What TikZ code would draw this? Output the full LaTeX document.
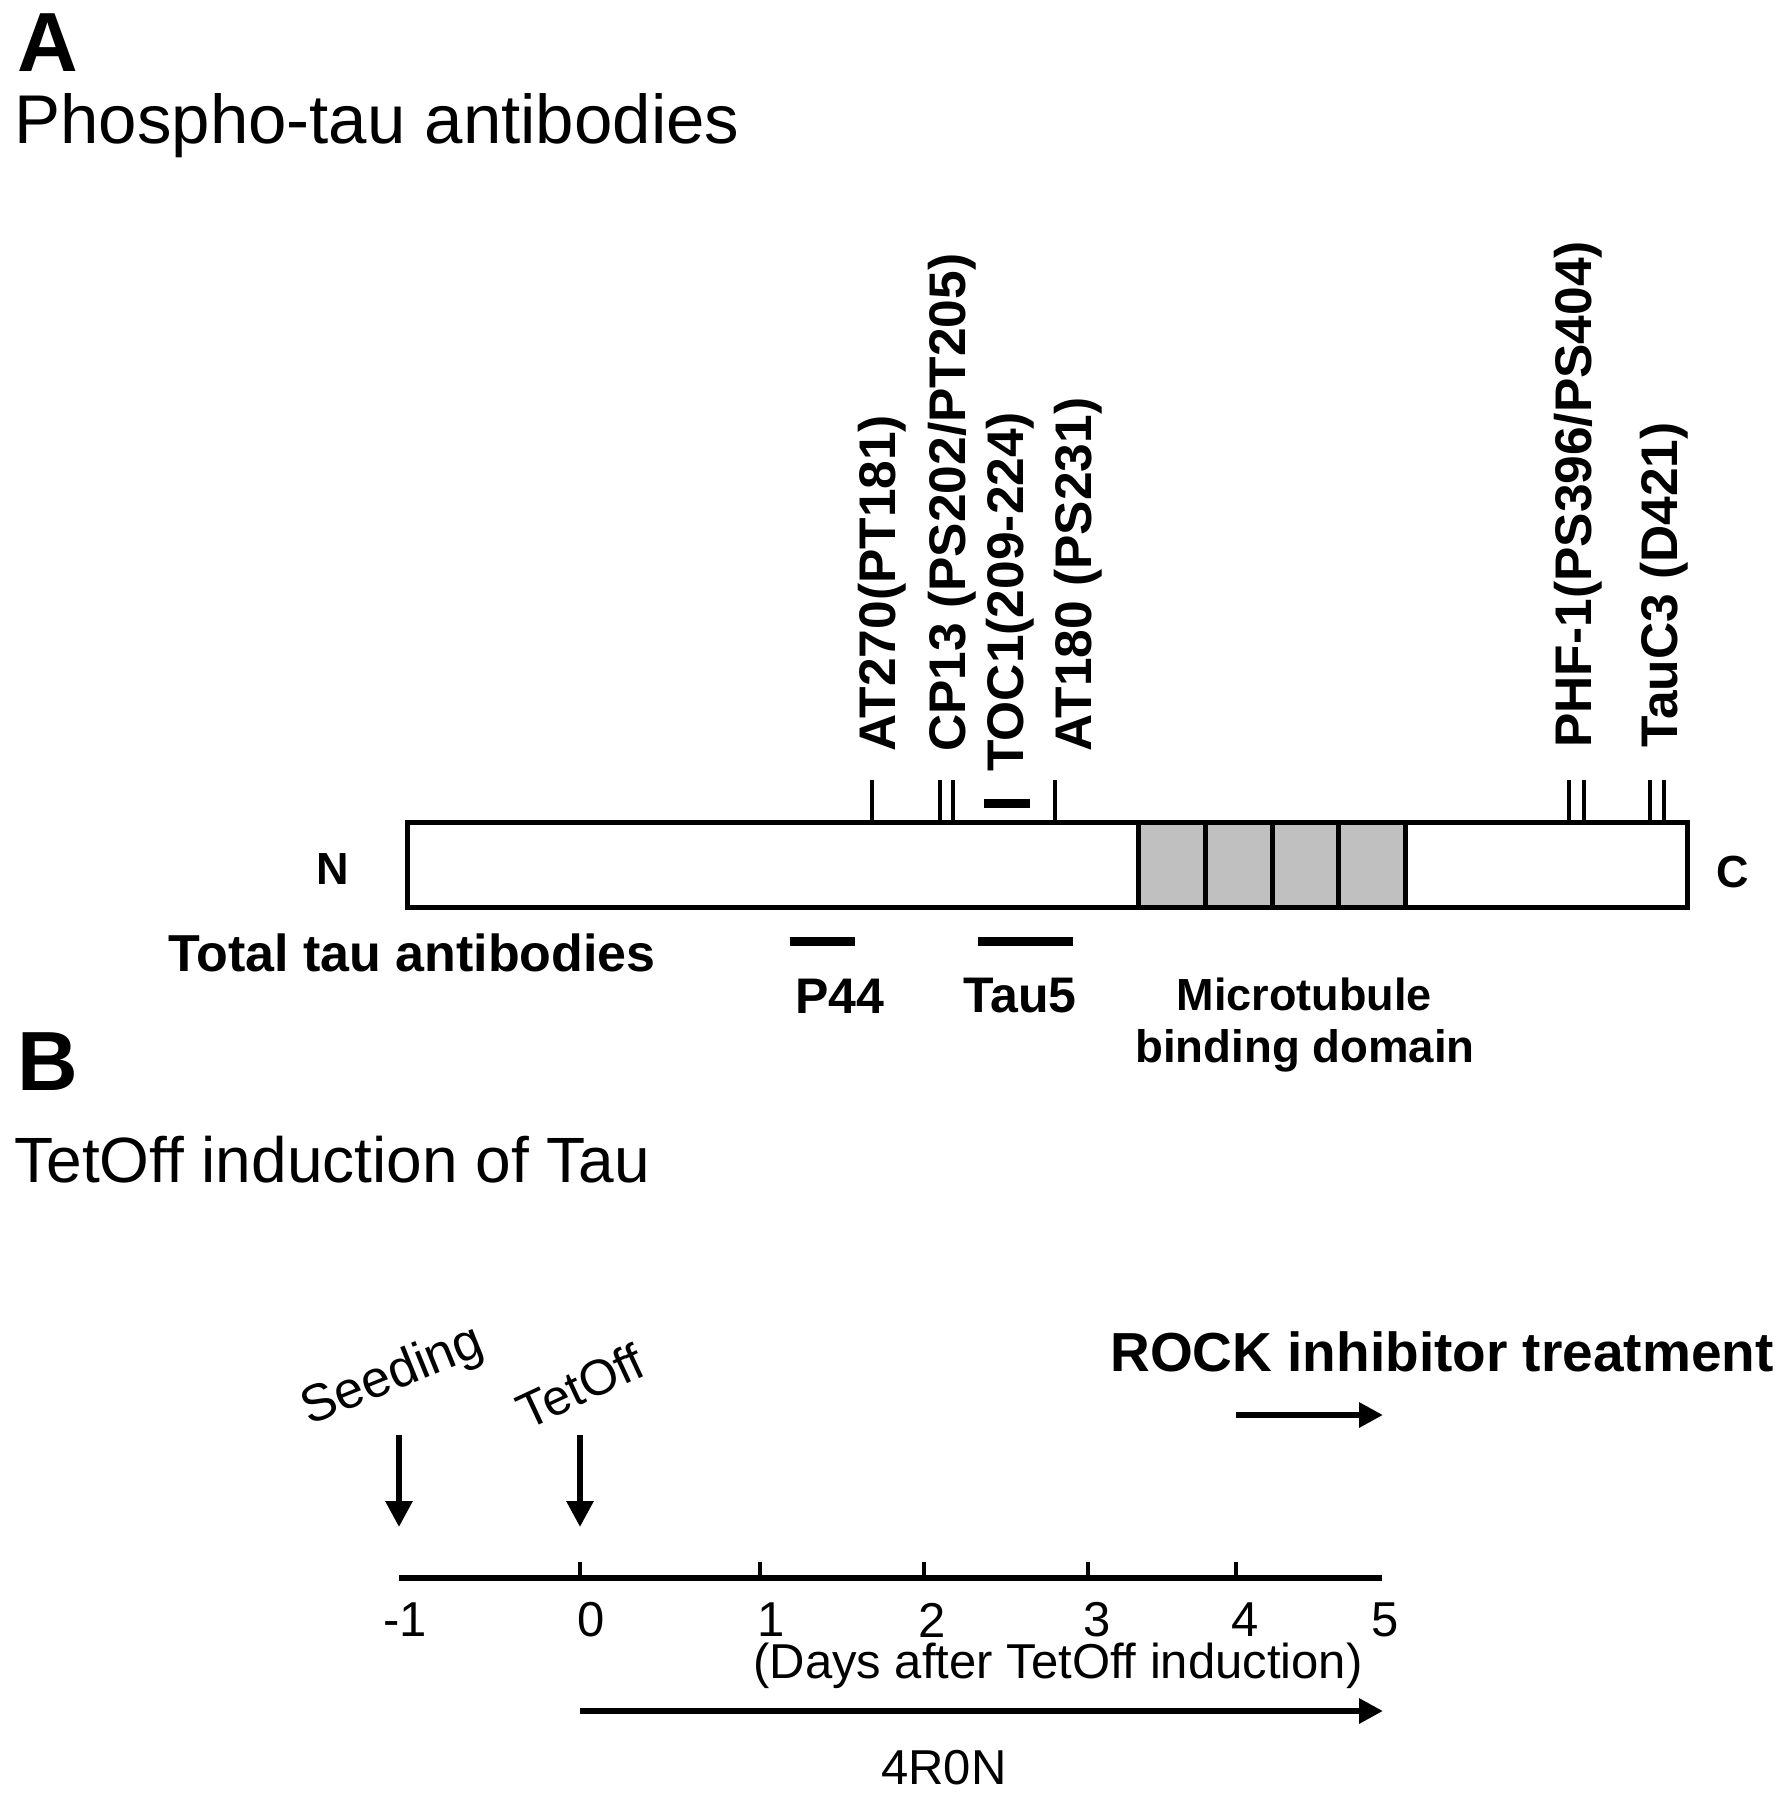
\documentclass[tikz,border=0pt]{standalone}
\usepackage{fontspec}
\setmainfont{Liberation Sans}
\usetikzlibrary{arrows.meta}
\newcommand\fsz[1]{\fontsize{#1}{#1}\selectfont}
\definecolor{domgrey}{RGB}{192,192,192}
\begin{document}
\begin{tikzpicture}[x=0.5pt,y=-0.5pt,
  txt/.style={inner sep=0pt},
  panel/.style={inner sep=0pt, anchor=base west, font=\bfseries\fsz{42pt}},
  title/.style={inner sep=0pt, anchor=base west},
  vlab/.style={inner sep=0pt, rotate=90, anchor=west, font=\bfseries\fsz{25.75pt}},
  blab/.style={inner sep=0pt, font=\bfseries\fsz{25pt}},
  nlab/.style={inner sep=0pt, font=\fsz{24.5pt}},
  boxline/.style={line width=2.5pt},
  tickline/.style={line width=2.4pt},
  bar/.style={line width=4.5pt},
  axisline/.style={line width=3pt},
  arr/.style={line width=3pt, -{Triangle[length=13pt,width=13pt]}},
  harr/.style={line width=3pt, -{Triangle[length=12pt,width=12pt]}}
]
\useasboundingbox (0,0) rectangle (1780,1800);

% ---------- Panel A ----------
\node[panel] (A) at (17,71) {A};
\node[title, font=\fsz{34.5pt}] (tA) at (14,143) {Phospho-tau antibodies};

% protein bar
\draw[boxline] (407,822) rectangle (1687,907);
\foreach \xa/\xb in {1138/1205,1205/1272,1272/1338,1338/1405}
  \draw[boxline, fill=domgrey] (\xa,822) rectangle (\xb,907);
\node[txt, font=\bfseries\fsz{22.5pt}] (N) at (333,869) {N};
\node[txt, font=\bfseries\fsz{22.5pt}] (C) at (1733,872) {C};

% epitope ticks above
\foreach \xx in {872,940,953,1055,1569,1584,1650,1664}
  \draw[tickline] (\xx,780) -- (\xx,822);
\draw[bar] (984,803) -- (1030,803);

% vertical labels
\node[vlab] (at270) at (882,752) {AT270(PT181)};
\node[vlab] (cp13) at (952,752) {CP13 (PS202/PT205)};
\node[vlab] (toc1) at (1010,772) {TOC1(209-224)};
\node[vlab] (at180) at (1078,752) {AT180 (PS231)};
\node[vlab] (phf1) at (1578,748) {PHF-1(PS396/PS404)};
\node[vlab] (tauc3) at (1664,748) {TauC3 (D421)};

% total tau antibodies
\node[txt, font=\bfseries\fsz{26pt}] (total) at (412,953) {Total tau antibodies};
\draw[bar] (790,941) -- (855,941);
\draw[bar] (978,941) -- (1073,941);
\node[blab] (p44) at (840,996) {P44};
\node[blab] (tau5) at (1020,996) {Tau5};
\node[txt, font=\bfseries\fsz{22.5pt}] (mtb1) at (1304,994) {Microtubule};
\node[txt, font=\bfseries\fsz{22.8pt}] (mtb2) at (1305,1051) {binding domain};

% ---------- Panel B ----------
\node[panel] (B) at (17,1090) {B};
\node[title, font=\fsz{32pt}] (tB) at (14,1182) {TetOff induction of Tau};

% rotated labels
\node[txt, rotate=22, font=\fsz{26pt}] (seed) at (393,1377) {Seeding};
\node[txt, rotate=25, font=\fsz{25pt}] (tetoff) at (580,1386) {TetOff};

% down arrows
\coordinate (sa1) at (399,1435);
\coordinate (sa2) at (399,1527);
\coordinate (ta1) at (580,1435);
\coordinate (ta2) at (580,1527);
\draw[arr] (sa1) -- (sa2);
\draw[arr] (ta1) -- (ta2);

% ROCK inhibitor
\node[txt, font=\bfseries\fsz{27.5pt}] (rock) at (1442,1352) {ROCK inhibitor treatment};
\coordinate (r1) at (1236,1415);
\coordinate (r2) at (1383,1415);
\draw[harr] (r1) -- (r2);

% axis
\coordinate (ax1) at (399,1578);
\coordinate (ax2) at (1382,1578);
\draw[axisline] (ax1) -- (ax2);
\foreach \xx in {580,760,924,1088,1236}
  \draw[tickline] (\xx,1562) -- (\xx,1578);
\foreach \xx/\lab in {405/-1,591/0,771/1,932/2,1097/3,1245/4,1385/5}
  \node[nlab] (d\lab) at (\xx,1620) {\lab};
\node[nlab] (days) at (1058,1666) {(Days after TetOff induction)};

% 4R0N arrow
\coordinate (f1) at (580,1711);
\coordinate (f2) at (1383,1711);
\draw[harr] (f1) -- (f2);
\node[nlab] (r40n) at (944,1768) {4R0N};
\end{tikzpicture}
\end{document}
